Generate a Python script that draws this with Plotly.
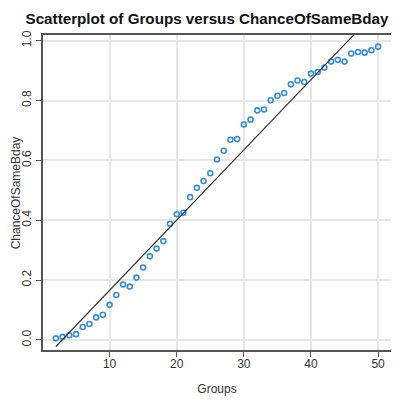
import numpy as np
import plotly.graph_objects as go

groups = [2, 3, 4, 5, 6, 7, 8, 9, 10, 11, 12, 13, 14, 15, 16, 17, 18, 19, 20,
          21, 22, 23, 24, 25, 26, 27, 28, 29, 30, 31, 32, 33, 34, 35, 36, 37,
          38, 39, 40, 41, 42, 43, 44, 45, 46, 47, 48, 49, 50]
chance = [0.005, 0.010, 0.015, 0.019, 0.043, 0.053, 0.075, 0.084, 0.117, 0.150,
          0.185, 0.178, 0.208, 0.242, 0.279, 0.305, 0.330, 0.388, 0.420, 0.425,
          0.477, 0.508, 0.531, 0.557, 0.603, 0.632, 0.669, 0.671, 0.720, 0.736,
          0.767, 0.770, 0.801, 0.816, 0.825, 0.854, 0.867, 0.862, 0.890, 0.895,
          0.910, 0.930, 0.936, 0.930, 0.957, 0.962, 0.960, 0.968, 0.980]

x_ticks = [10, 20, 30, 40, 50]
y_ticks = [0.0, 0.2, 0.4, 0.6, 0.8, 1.0]
y_tick_text = ["0.0", "0.2", "0.4", "0.6", "0.8", "1.0"]

slope, intercept = np.polyfit(groups, chance, 1)
fit_x = [groups[0], groups[-1]]
fit_y = [intercept + slope * v for v in fit_x]

fig = go.Figure()
fig.add_trace(go.Scatter(
    x=groups, y=chance, mode="markers",
    marker=dict(symbol="circle-open", size=5, color="#3b8ed0",
                line=dict(width=1.6, color="#3b8ed0")),
    showlegend=False, cliponaxis=False,
))
fig.add_trace(go.Scatter(
    x=fit_x, y=fit_y, mode="lines",
    line=dict(color="#333333", width=1.1),
    showlegend=False,
))

font_family = "Liberation Sans, Arial, sans-serif"
fig.update_layout(
    width=391, height=392,
    margin=dict(l=35, r=8, t=27, b=50, autoexpand=False),
    paper_bgcolor="white", plot_bgcolor="white",
    font=dict(family=font_family, size=12, color="#333333"),
    title=dict(text="<b>Scatterplot of Groups versus ChanceOfSameBday</b>",
               x=0.509, xanchor="center", y=0.972, yanchor="middle",
               font=dict(size=15.2, color="#111111", family=font_family)),
    xaxis=dict(range=[0.08, 51.92], tickvals=x_ticks, ticks="outside",
               ticklen=5, tickcolor="#555555", showgrid=True, automargin=False,
               gridcolor="#e6e6e6", gridwidth=1.5, zeroline=False,
               ticklabelstandoff=-3,
               showline=True, mirror=True, linecolor="#555555", linewidth=1.5,
               title=dict(text="Groups", standoff=14, font=dict(size=12)),
               tickfont=dict(size=12, color="#333333")),
    yaxis=dict(range=[-0.034, 1.019], tickvals=y_ticks, ticktext=y_tick_text,
               ticks="outside", ticklen=5, tickcolor="#555555", tickangle=-90,
               showgrid=True, gridcolor="#e6e6e6", gridwidth=1.5, zeroline=False,
               automargin=False,
               showline=True, mirror=True, linecolor="#555555", linewidth=1.5,
               tickfont=dict(size=12, color="#333333")),
    annotations=[dict(text="ChanceOfSameBday", textangle=-90,
                      xref="paper", yref="paper", x=-0.078, y=0.5,
                      xanchor="center", yanchor="middle", showarrow=False,
                      font=dict(size=12, color="#333333", family=font_family))],
)

fig.write_html("out.html")
